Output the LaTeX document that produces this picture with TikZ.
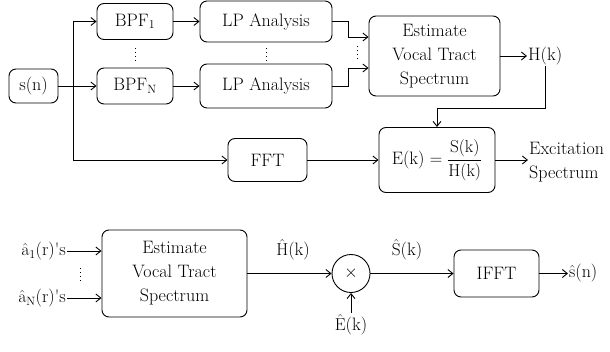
\documentclass[tikz,border=0pt]{standalone}
\usetikzlibrary{arrows.meta}
\begin{document}
\tikzset{
  blk/.style={draw, rounded corners=7pt, line width=0.9pt, align=center, inner sep=0pt},
  arr/.style={-{Straight Barb[length=5pt,width=8pt]}, line width=0.9pt},
  ln/.style={line width=0.9pt},
  lbl/.style={inner sep=1pt},
  dots/.style={line width=0.9pt, dash pattern=on 0.9pt off 3.2pt},
}
\begin{tikzpicture}[x=1pt, y=-1pt, font=\fontsize{18}{24}\selectfont]
\useasboundingbox (0,0) rectangle (610,351);

% analysis chain
\node[blk, minimum width=49pt, minimum height=34pt] (s) at (33.5,86) {s(n)};
\node[blk, minimum width=76pt, minimum height=36pt] (b1) at (135,21.5) {BPF$_1$};
\node[blk, minimum width=76pt, minimum height=36pt] (bn) at (135,86) {BPF$_{\mathrm{N}}$};
\node[blk, minimum width=132pt, minimum height=41pt] (lp1) at (266,21.5) {LP Analysis};
\node[blk, minimum width=132pt, minimum height=44pt] (lpn) at (266,86) {LP Analysis};
\node[blk, minimum width=131pt, minimum height=80pt] (est) at (434.5,56) {Estimate\\Vocal Tract\\Spectrum};
\node[lbl, anchor=west] (hk) at (527,56) {H(k)};
\node[blk, minimum width=79pt, minimum height=43pt] (fft) at (267.5,160) {FFT};
\node[blk, minimum width=116pt, minimum height=65pt] (eb) at (437,160)
  {E(k) $=\displaystyle\frac{\mathrm{S(k)}}{\mathrm{H(k)}}$};
\node[lbl, anchor=west, align=left] (exc) at (528,162) {Excitation\\Spectrum};

\coordinate (j) at (73,86);
\draw[arr] (s) -- (bn);
\draw[arr] (j) |- (b1);
\draw[arr] (j) |- (fft);
\draw[arr] (b1) -- (lp1);
\draw[arr] (bn) -- (lpn);
\draw[arr] (lp1.east) -- (348,21.5) -- (348,37) -- (est.west |- 0,37);
\draw[arr] (lpn.east) -- (348,86) -- (348,68) -- (est.west |- 0,68);
\draw[arr] (est) -- (hk);
\draw[arr] (hk.south) -- (hk.south |- 0,108) -| (eb.north);
\draw[arr] (fft) -- (eb);
\draw[arr] (eb) -- (exc.west |- eb);

\draw[dots] (135,48) -- (135,61);
\draw[dots] (266,48) -- (266,61);
\draw[dots] (357,46) -- (357,59);

% synthesis chain
\node[lbl, anchor=east] (a1) at (67,251) {$\hat{\mathrm{a}}_1$(r)\textquotesingle s};
\node[lbl, anchor=east] (an) at (67,298) {$\hat{\mathrm{a}}_{\mathrm{N}}$(r)\textquotesingle s};
\node[blk, minimum width=145pt, minimum height=87pt] (est2) at (174.5,273.5) {Estimate\\Vocal Tract\\Spectrum};
\node[draw, circle, line width=0.9pt, minimum size=38pt, inner sep=0pt] (m) at (351,273.5) {$\times$};
\node[blk, minimum width=85pt, minimum height=47pt] (ifft) at (496.5,273.5) {IFFT};
\node[lbl, anchor=west] (sn) at (568,273.5) {$\hat{\mathrm{s}}$(n)};
\node[lbl, anchor=north] (ek) at (351,313) {$\hat{\mathrm{E}}$(k)};
\node[lbl] (hh) at (293,250) {$\hat{\mathrm{H}}$(k)};
\node[lbl] (sh) at (407,250) {$\hat{\mathrm{S}}$(k)};

\draw[arr] (a1) -- (est2.west |- a1);
\draw[arr] (an) -- (est2.west |- an);
\draw[dots] (80,268) -- (80,281);
\draw[arr] (est2) -- (m);
\draw[arr] (m) -- (ifft);
\draw[arr] (ifft) -- (sn);
\draw[arr] (ek) -- (m);
\end{tikzpicture}
\end{document}
